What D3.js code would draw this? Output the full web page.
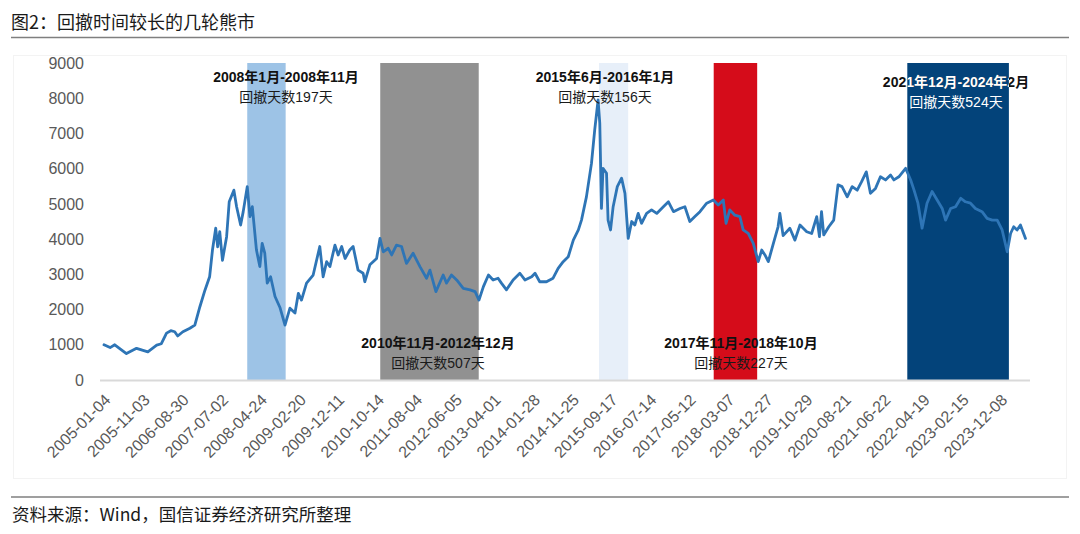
<!DOCTYPE html>
<html>
<head>
<meta charset="utf-8">
<script src="https://cdn.jsdelivr.net/npm/d3@7"></script>
<style>
  html, body { margin: 0; padding: 0; background: #ffffff; }
  svg { display: block; }
</style>
</head>
<body>
<svg id="chart" width="1080" height="534"></svg>
<script>
// ---------------- DATA ----------------
const dates = [
  "2005-01-04","2005-02-20","2005-03-28","2005-05-13","2005-06-26","2005-09-12","2005-12-08",
  "2006-02-14","2006-03-22","2006-05-01","2006-06-03","2006-07-03","2006-07-26","2006-09-04","2006-10-28","2006-12-05",
  "2007-01-13","2007-02-21","2007-03-29","2007-04-20","2007-05-15","2007-05-30","2007-06-15","2007-07-06","2007-08-07","2007-08-27","2007-10-02","2007-10-23","2007-11-23","2007-12-13",
  "2008-01-13","2008-02-03","2008-02-21","2008-03-24","2008-04-19","2008-05-07","2008-05-27","2008-06-15","2008-07-11","2008-08-14","2008-09-22","2008-10-30","2008-12-07",
  "2009-01-15","2009-02-10","2009-03-06","2009-04-14","2009-06-04","2009-07-25","2009-08-20","2009-09-16","2009-10-11","2009-11-19","2009-12-14",
  "2010-01-10","2010-02-05","2010-03-13","2010-04-08","2010-05-16","2010-06-24","2010-07-07","2010-08-15","2010-10-06","2010-11-01","2010-11-26",
  "2011-01-04","2011-01-30","2011-03-08","2011-04-16","2011-05-24","2011-07-14","2011-09-05","2011-10-26","2011-11-21",
  "2012-01-06","2012-03-02","2012-03-28","2012-05-05","2012-06-14","2012-08-04","2012-09-25","2012-11-03","2012-12-03",
  "2013-01-06","2013-02-14","2013-03-22","2013-04-29","2013-05-25","2013-07-03","2013-08-23","2013-10-14","2013-11-22",
  "2014-01-13","2014-02-08","2014-03-16","2014-05-07","2014-06-27","2014-08-05","2014-09-13","2014-10-22","2014-11-30",
  "2015-01-08","2015-02-01","2015-03-11","2015-04-19","2015-05-14","2015-06-09","2015-06-22","2015-07-05","2015-07-17","2015-08-13","2015-08-25","2015-09-13","2015-10-03","2015-11-04","2015-12-07",
  "2016-01-02","2016-01-27","2016-02-23","2016-03-18","2016-04-13","2016-05-09","2016-06-17","2016-07-25","2016-09-03","2016-10-24","2016-12-02",
  "2017-01-10","2017-03-01","2017-04-08","2017-05-16","2017-06-24","2017-08-02","2017-09-23","2017-11-13","2017-12-21",
  "2018-01-29","2018-02-19","2018-03-20","2018-04-28","2018-06-06","2018-07-01","2018-08-09","2018-09-17","2018-10-25","2018-11-21","2018-12-16",
  "2019-01-11","2019-02-19","2019-03-27","2019-04-10","2019-05-05","2019-06-26","2019-08-04","2019-09-12","2019-11-03","2019-12-11",
  "2020-01-19","2020-02-09","2020-02-25","2020-03-13","2020-04-21","2020-05-29","2020-07-01","2020-08-01","2020-09-10","2020-10-18","2020-11-26","2020-12-30",
  "2021-02-04","2021-03-08","2021-04-16","2021-05-24","2021-07-02","2021-08-10","2021-09-05","2021-10-13","2021-12-04",
  "2022-01-12","2022-02-07","2022-03-09","2022-04-10","2022-05-18","2022-06-26","2022-08-04","2022-09-12","2022-10-08","2022-11-16","2022-12-24",
  "2023-02-02","2023-03-10","2023-04-18","2023-05-26","2023-07-16","2023-08-24","2023-10-02","2023-11-10","2023-12-18",
  "2024-01-26","2024-02-21","2024-03-16","2024-04-11","2024-05-07","2024-06-15"
];
const values = [
  1000,920,1000,870,750,900,800,
  990,1030,1330,1400,1370,1250,1370,1470,1560,
  2080,2550,2930,3690,4310,3780,4210,3400,4070,5060,5390,4920,4400,4780,
  5490,4640,4920,3690,3220,3880,3600,2750,2930,2370,2050,1560,2040,
  1900,2460,2270,2750,2980,3790,2930,3360,3220,3830,3550,
  3790,3450,3690,3790,3120,3030,2790,3270,3450,4020,3640,
  3740,3550,3830,3790,3310,3600,3220,2890,3120,
  2510,2980,2750,2980,2840,2600,2560,2510,2270,
  2650,2980,2840,2890,2750,2560,2840,3030,2840,
  2930,3030,2790,2790,2890,3170,3360,3500,3970,
  4260,4540,5200,6150,7100,7950,7290,4870,6010,5870,4540,4260,4920,5490,5730,
  5300,4020,4500,4400,4730,4450,4730,4830,4730,4920,5060,
  4780,4870,4920,4500,4640,4780,5020,5110,4970,
  5110,4450,4830,4680,4640,4260,4160,3880,3360,3690,3550,
  3360,3880,4350,4730,4100,4310,3970,4400,4210,4160,
  4640,4070,4780,4120,4350,4540,5540,5490,5200,5490,5390,5630,
  5910,5300,5440,5770,5680,5820,5680,5770,6010,
  5680,5390,5020,4310,5020,5350,5110,4870,4540,4870,4920,
  5160,5060,5020,4870,4780,4590,4540,4540,4260,
  3640,4160,4350,4260,4400,4020
];
const yTickValues = [0,1000,2000,3000,4000,5000,6000,7000,8000,9000];
const xTickLabels = [
  "2005-01-04","2005-11-03","2006-08-30","2007-07-02","2008-04-24","2009-02-20",
  "2009-12-11","2010-10-14","2011-08-04","2012-06-05","2013-04-01","2014-01-28",
  "2014-11-25","2015-09-17","2016-07-14","2017-05-12","2018-03-07","2018-12-27",
  "2019-10-29","2020-08-21","2021-06-22","2022-04-19","2023-02-15","2023-12-08"
];
const bearStarts = ["2008-01-13","2010-11-03","2015-06-16","2017-11-16","2021-12-17"];
const bearEnds   = ["2008-11-04","2012-12-01","2016-01-27","2018-10-17","2024-02-08"];
const bearPeriodText = ["2008年1月-2008年11月","2010年11月-2012年12月","2015年6月-2016年1月","2017年11月-2018年10月","2021年12月-2024年2月"];
const bearDaysText = ["回撤天数197天","回撤天数507天","回撤天数156天","回撤天数227天","回撤天数524天"];
const titleText = "图2：回撤时间较长的几轮熊市";
const sourceText = "资料来源：Wind，国信证券经济研究所整理";

// ---------------- STYLE / LAYOUT ----------------
const bandColors = ["#9dc3e6","#919191","#e7eff9","#d50c1a","#03437a"];
const labelLayout = [
  {cx: 286, y1: 77, y2: 97, c2: "#1a1a1a"},
  {cx: 438, y1: 343, y2: 363, c2: "#1a1a1a"},
  {cx: 605, y1: 77, y2: 97, c2: "#1a1a1a"},
  {cx: 741, y1: 343, y2: 363, c2: "#1a1a1a"},
  {cx: 956, y1: 82, y2: 102, c2: "#ffffff"}
];
const LATIN = "'Liberation Sans', Arial, 'Noto Sans CJK SC', sans-serif";
const CJK = "'Liberation Sans', 'Noto Sans CJK SC', sans-serif";

const parse = d3.timeParse("%Y-%m-%d");
const series = dates.map((d, i) => ({date: parse(d), value: values[i]}));

const svg = d3.select("#chart");

const x = d3.scaleTime()
  .domain([parse("2005-01-04"), parse("2024-07-12")])
  .range([104, 1029]);
const y = d3.scaleLinear().domain([0, 9000]).range([380, 63]);

// title
svg.append("text")
  .attr("x", 11).attr("y", 22.5).attr("dy", "0.35em")
  .attr("font-family", "'Noto Sans CJK SC', sans-serif")
  .attr("font-size", 18).attr("fill", "#1a1a1a")
  .text(titleText);
svg.append("line").attr("x1", 11).attr("x2", 1069).attr("y1", 37.5).attr("y2", 37.5)
  .attr("stroke", "#7f7f7f").attr("stroke-width", 1.5);

// chart frame
svg.append("rect").attr("x", 13.5).attr("y", 55.5).attr("width", 1053).attr("height", 423)
  .attr("fill", "none").attr("stroke", "#f3f3f3").attr("stroke-width", 1);

// bands
const bands = bearStarts.map((s, i) => ({s: parse(s), e: parse(bearEnds[i]), i}));
svg.append("g").selectAll("rect").data(bands).join("rect")
  .attr("x", d => x(d.s)).attr("width", d => x(d.e) - x(d.s))
  .attr("y", y(9000)).attr("height", y(0) - y(9000))
  .attr("fill", d => bandColors[d.i]);

// y axis
const yAxis = d3.axisLeft(y).tickValues(yTickValues).tickSize(0).tickPadding(0)
  .tickFormat(d3.format("d"));
const gy = svg.append("g").attr("transform", "translate(84,0)").call(yAxis);
gy.select(".domain").remove();
gy.selectAll("text").attr("font-family", LATIN).attr("font-size", 16).attr("fill", "#595959");

// x axis
const xAxis = d3.axisBottom(x).tickValues(xTickLabels.map(parse)).tickSize(0)
  .tickFormat(d3.timeFormat("%Y-%m-%d"));
const gx = svg.append("g").attr("transform", `translate(0,${y(0)})`).call(xAxis);
gx.select(".domain").attr("d", `M100,0.5H1030`).attr("stroke", "#d9d9d9").attr("stroke-width", 2);
gx.selectAll(".tick text")
  .attr("font-family", LATIN).attr("font-size", 16).attr("fill", "#595959")
  .attr("text-anchor", "end").attr("y", 0).attr("dy", "0.35em")
  .attr("transform", "translate(3,17) rotate(-45)");

// line
const line = d3.line().x(d => x(d.date)).y(d => y(d.value));
svg.append("path").datum(series)
  .attr("d", line).attr("fill", "none")
  .attr("stroke", "#2e75b6").attr("stroke-width", 2.8)
  .attr("stroke-linejoin", "round").attr("stroke-linecap", "round");

// annotations
const defs = svg.append("defs");
bands.forEach(b => {
  defs.append("clipPath").attr("id", "band" + b.i).append("rect")
    .attr("x", x(b.s)).attr("width", x(b.e) - x(b.s))
    .attr("y", y(9000)).attr("height", y(0) - y(9000));
});
const ann = svg.append("g");
labelLayout.forEach((L, i) => {
  ann.append("text").attr("x", L.cx).attr("y", L.y1).attr("dy", "0.35em")
    .attr("text-anchor", "middle").attr("font-family", CJK).attr("font-size", 14)
    .attr("font-weight", "bold").attr("fill", "#111").text(bearPeriodText[i]);
  if (i === 4) {
    ann.append("text").attr("x", L.cx).attr("y", L.y1).attr("dy", "0.35em")
      .attr("text-anchor", "middle").attr("font-family", CJK).attr("font-size", 14)
      .attr("font-weight", "bold").attr("fill", "#ffffff")
      .attr("clip-path", "url(#band4)").text(bearPeriodText[i]);
  }
  ann.append("text").attr("x", L.cx).attr("y", L.y2).attr("dy", "0.35em")
    .attr("text-anchor", "middle").attr("font-family", CJK).attr("font-size", 14)
    .attr("fill", L.c2).text(bearDaysText[i]);
});

// footer
svg.append("line").attr("x1", 11).attr("x2", 1069).attr("y1", 497).attr("y2", 497)
  .attr("stroke", "#7f7f7f").attr("stroke-width", 1.5);
svg.append("text")
  .attr("x", 12).attr("y", 515).attr("dy", "0.35em")
  .attr("font-family", "'Noto Sans CJK SC', sans-serif")
  .attr("font-size", 17.5).attr("fill", "#1a1a1a")
  .text(sourceText);
</script>
</body>
</html>
